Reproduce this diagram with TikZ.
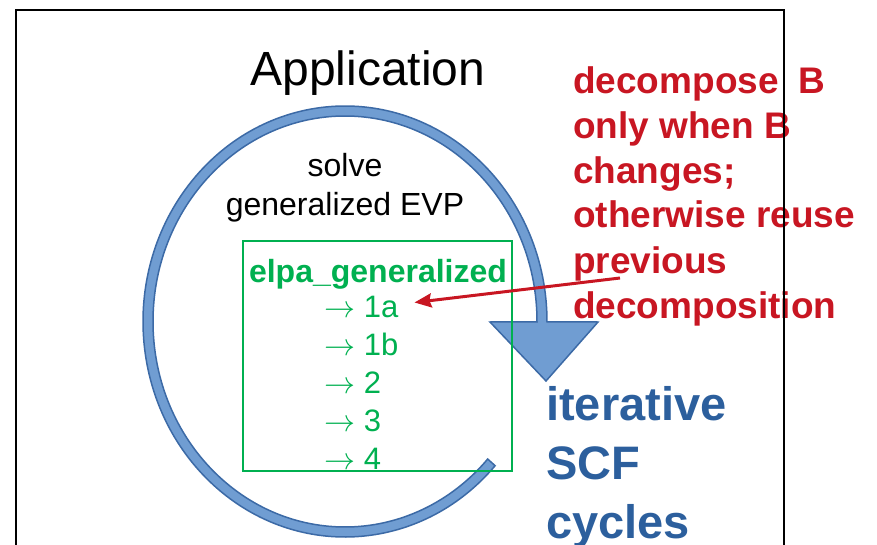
\RequirePackage{fix-cm}
\documentclass[tikz,border=0pt]{standalone}
\usepackage{fontspec}
\setmainfont{Liberation Sans}
\usetikzlibrary{arrows.meta}

\definecolor{ringfill}{RGB}{112,157,210}
\definecolor{ringline}{RGB}{60,106,166}
\definecolor{boxgreen}{RGB}{0,176,80}
\definecolor{notered}{RGB}{200,22,34}
\definecolor{cycleblue}{RGB}{44,95,157}

\newcommand\fsz[1]{\fontsize{#1}{#1}\selectfont}

\begin{document}
\begin{tikzpicture}[x=1pt,y=-1pt,
  txt/.style={inner sep=0pt, anchor=base},
  listitem/.style={inner sep=0pt, anchor=base west, text=boxgreen, font=\fsz{31}},
  noteline/.style={inner sep=0pt, anchor=base west, text=notered, font=\bfseries\fsz{37}},
  cycleline/.style={inner sep=0pt, anchor=base west, text=cycleblue, font=\bfseries\fsz{47}},
  ringshape/.style={fill=ringfill, draw=ringline, line width=1.5pt, line join=miter}
]
\useasboundingbox (0,0) rectangle (877,545);

% circular arrow of the SCF iteration (ring plus downward head)
\path[ringshape, shift={(345,321.5)}]
  (42:202 and 215.5)
  arc[start angle=42, end angle=360.1, x radius=202, y radius=215.5]
  -- (253,0.5) -- (201,59.5) -- (145,0.5)
  -- (360.1:192 and 205.5)
  arc[start angle=360.1, end angle=42, x radius=192, y radius=205.5]
  -- cycle;

% box of the library routine
\node[draw=boxgreen, line width=2pt, inner sep=0pt,
      minimum width=269pt, minimum height=230pt] (libbox) at (377.5,356) {};

% labels
\node[txt, font=\fsz{48}] (app) at (368,86) {Application};
\node[txt, font=\fsz{32}] (solve) at (345,177) {solve};
\node[txt, font=\fsz{32}] (gevp) at (345,215) {generalized EVP};
\node[txt, font=\bfseries\fsz{32}, text=boxgreen] (elpa) at (378,282) {elpa\_generalized};

\node[listitem] (s1a) at (324,317) {$\rightarrow$ 1a};
\node[listitem] (s1b) at (324,355) {$\rightarrow$ 1b};
\node[listitem] (s2)  at (324,393) {$\rightarrow$ 2};
\node[listitem] (s3)  at (324,431) {$\rightarrow$ 3};
\node[listitem] (s4)  at (324,469) {$\rightarrow$ 4};

\node[noteline] (n1) at (573,94)  {decompose\hspace{0.25em} B};
\node[noteline] (n2) at (573,139) {only when B};
\node[noteline] (n3) at (573,184) {changes;};
\node[noteline] (n4) at (573,228) {otherwise reuse};
\node[noteline] (n5) at (573,273) {previous};
\node[noteline] (n6) at (573,318) {decomposition};

\node[cycleline] (c1) at (546,420) {iterative};
\node[cycleline] (c2) at (546,479) {SCF};
\node[cycleline] (c3) at (546,538) {cycles};

% pointer from the note to step 1a
\coordinate (nstart) at (620,278);
\draw[notered, line width=3pt, -{Stealth[length=17pt, width=14pt, inset=2pt]}]
  (nstart) -- ([xshift=16pt, yshift=4pt]s1a.east);

% application frame
\draw[line width=2.5pt, line join=miter] (16,560) -- (16,10) -- (784,10) -- (784,560);
\end{tikzpicture}
\end{document}
